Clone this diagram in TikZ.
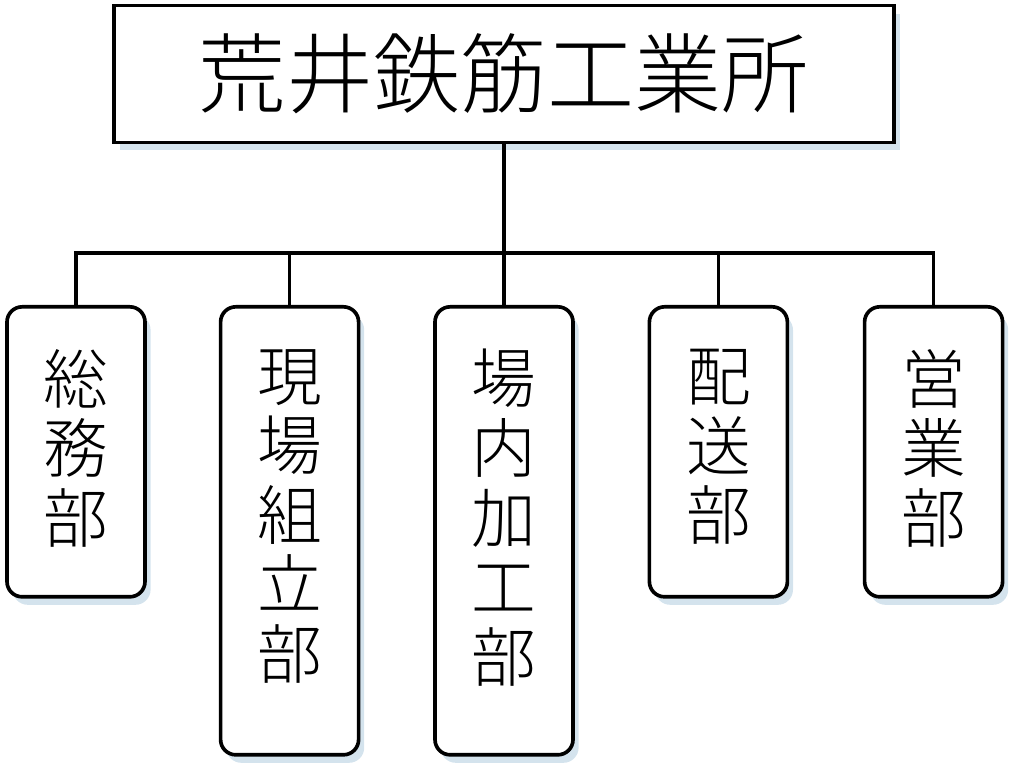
\documentclass[tikz,border=0pt]{standalone}
\usepackage{fontspec}
\newfontfamily\jpfont{Noto Sans CJK JP Light}
\usetikzlibrary{shadows,positioning}
\definecolor{shadowblue}{RGB}{170,200,220}

\begin{document}
\begin{tikzpicture}[
    unitbox/.style={draw=black, line width=2.6pt, fill=white, rounded corners=0.38cm,
      minimum width=3.45cm, inner sep=0pt,
      drop shadow={shadow xshift=0.14cm, shadow yshift=-0.2cm, fill=shadowblue, opacity=0.5}},
    unittext/.style={anchor=north, align=center, inner sep=0pt,
      font=\jpfont\fontsize{46}{49.5}\selectfont},
    link/.style={line width=2.6pt}
  ]
  \useasboundingbox (0,0) rectangle (25.6,19.375);

  % company
  \node[draw=black, line width=2.6pt, fill=white, minimum width=19.5cm, minimum height=3.42cm,
        drop shadow={shadow xshift=0.14cm, shadow yshift=-0.2cm, fill=shadowblue, opacity=0.5},
        font=\jpfont\fontsize{62}{62}\selectfont] (company) at (12.6,17.525) {荒井鉄筋工業所};

  % departments
  \node[unitbox, minimum height=7.25cm, anchor=north] (somu) at (1.9,11.75) {};
  \node[unitbox, minimum height=11.2cm, anchor=north] (genba) at (7.24,11.75) {};
  \node[unitbox, minimum height=11.2cm, anchor=north] (jonai) at (12.6,11.75) {};
  \node[unitbox, minimum height=7.25cm, anchor=north] (haiso) at (17.96,11.75) {};
  \node[unitbox, minimum height=7.25cm, anchor=north] (eigyo) at (23.34,11.75) {};

  \node[unittext] (somutext) at ([yshift=-1.1cm]somu.north) {総\\務\\部};
  \node[unittext] (genbatext) at ([yshift=-1.1cm]genba.north) {現\\場\\組\\立\\部};
  \node[unittext] (jonaitext) at ([yshift=-1.1cm]jonai.north) {場\\内\\加\\工\\部};
  \node[unittext] (haisotext) at ([yshift=-1.1cm]haiso.north) {配\\送\\部};
  \node[unittext] (eigyotext) at ([yshift=-1.1cm]eigyo.north) {営\\業\\部};

  % tree lines
  \coordinate (bus) at (12.6,13.05);
  \draw[link] (company.south) -- (bus);
  \draw[link] (somu.north) |- (bus);
  \draw[link] (eigyo.north) |- (bus);
  \draw[link] (genba.north) -- (genba.north |- bus);
  \draw[link] (jonai.north) -- (bus);
  \draw[link] (haiso.north) -- (haiso.north |- bus);
\end{tikzpicture}
\end{document}
